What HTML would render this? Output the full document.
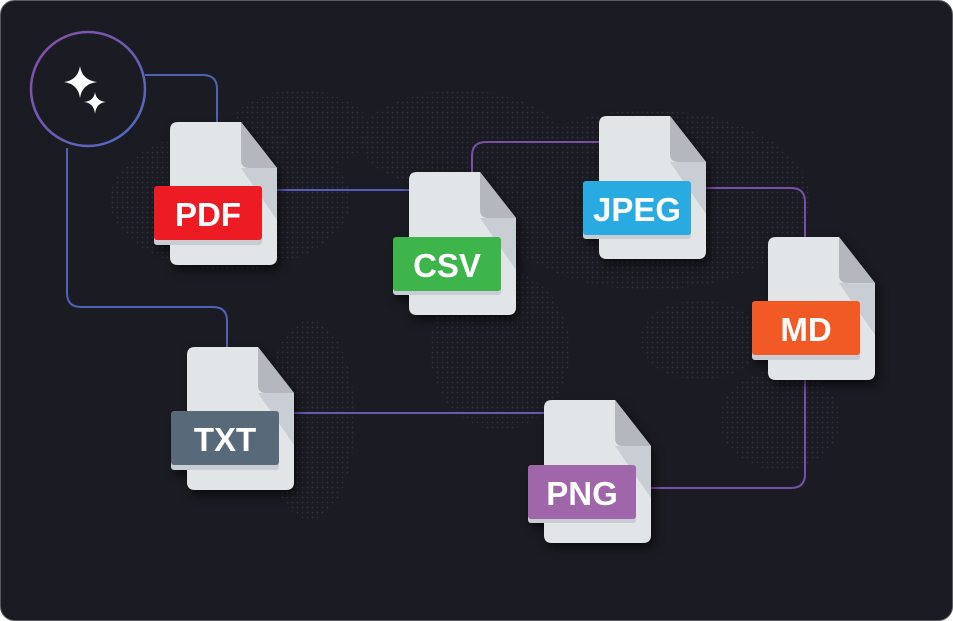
<!DOCTYPE html>
<html><head><meta charset="utf-8"><style>
html,body{margin:0;padding:0;background:#fff;}
body{width:953px;height:621px;overflow:hidden;}
svg{display:block}
text{font-family:"Liberation Sans",sans-serif;font-weight:bold;fill:#fff;}
</style></head><body>
<svg width="953" height="621" viewBox="0 0 953 621" xmlns="http://www.w3.org/2000/svg">
<defs>
<pattern id="dots" width="5" height="5" patternUnits="userSpaceOnUse"><circle cx="2.5" cy="2.5" r="0.9" fill="#5a5c66"/></pattern>
<linearGradient id="cg" x1="0" y1="0" x2="1" y2="1"><stop offset="0" stop-color="#8a4ea8"/><stop offset="1" stop-color="#4f6bc0"/></linearGradient>
<filter id="sh" x="-30%" y="-30%" width="160%" height="160%"><feDropShadow dx="3" dy="5" stdDeviation="5" flood-color="#000" flood-opacity="0.6"/></filter>
<g id="doc">
<path d="M8,0 H71 L107,46 V135 Q107,143 99,143 H8 Q0,143 0,135 V8 Q0,0 8,0Z" fill="#e2e5e8"/>
<polygon points="71,46 107,46 107,98" fill="#c9ced5"/>
<path d="M71,0 V38 Q71,46 79,46 H107 Z" fill="#b4b8be"/>
<rect x="-16" y="69" width="108" height="54" rx="3" fill="#c8ccd3"/>
</g>
</defs>
<rect x="0.5" y="0.5" width="952" height="620" rx="14" fill="#1b1c23" stroke="#5a5b60"/>
<g opacity="0.35">
<ellipse cx="230" cy="200" rx="120" ry="70" fill="url(#dots)"/>
<ellipse cx="300" cy="130" rx="70" ry="40" fill="url(#dots)"/>
<ellipse cx="310" cy="420" rx="45" ry="100" fill="url(#dots)"/>
<ellipse cx="460" cy="140" rx="100" ry="50" fill="url(#dots)"/>
<ellipse cx="500" cy="350" rx="70" ry="80" fill="url(#dots)"/>
<ellipse cx="650" cy="200" rx="160" ry="90" fill="url(#dots)"/>
<ellipse cx="780" cy="420" rx="60" ry="50" fill="url(#dots)"/>
<ellipse cx="700" cy="340" rx="60" ry="40" fill="url(#dots)"/>
</g>
<g fill="none" stroke-width="2">
<path d="M145,75 H203 Q217,75 217,89 V122" stroke="#4f62b4"/>
<path d="M67,148 V293 Q67,307 81,307 H213 Q227,307 227,321 V347" stroke="#4f62b4"/>
<path d="M277,190 H409" stroke="#5a5ab8"/>
<path d="M472,172 V156 Q472,142 486,142 H599" stroke="#7a4fa8"/>
<path d="M706,188 H791 Q805,188 805,202 V237" stroke="#7a4fa8"/>
<path d="M805,380 V474 Q805,488 791,488 H651" stroke="#7a4fa8"/>
<path d="M294,413 H544" stroke="#6a5ab0"/>
</g>
<circle cx="88" cy="89" r="57" fill="#1b1c23" stroke="url(#cg)" stroke-width="2.5"/>
<path d="M80,66 Q82,80 97,82 Q82,84 80,98 Q78,84 64,82 Q78,80 80,66Z" fill="#fff"/>
<path d="M95,92 Q96,101 106,102 Q96,103 95,114 Q94,103 84,102 Q94,101 95,92Z" fill="#fff"/>
<g filter="url(#sh)">
<use href="#doc" x="170" y="122"/>
<use href="#doc" x="409" y="172"/>
<use href="#doc" x="599" y="116"/>
<use href="#doc" x="768" y="237"/>
<use href="#doc" x="187" y="347"/>
<use href="#doc" x="544" y="400"/>
</g>
<rect x="154" y="186" width="108" height="54" rx="3" fill="#ed1c24"/>
<text x="208" y="226" font-size="33" text-anchor="middle">PDF</text>
<rect x="393" y="237" width="108" height="54" rx="3" fill="#3db54a"/>
<text x="447" y="277" font-size="33" text-anchor="middle">CSV</text>
<rect x="583" y="181" width="108" height="54" rx="3" fill="#29abe2"/>
<text x="637" y="221" font-size="33" text-anchor="middle">JPEG</text>
<rect x="752" y="301" width="108" height="54" rx="3" fill="#f15a24"/>
<text x="806" y="341" font-size="33" text-anchor="middle">MD</text>
<rect x="171" y="411" width="108" height="54" rx="3" fill="#586a7a"/>
<text x="225" y="451" font-size="33" text-anchor="middle">TXT</text>
<rect x="528" y="465" width="108" height="54" rx="3" fill="#a066aa"/>
<text x="582" y="505" font-size="33" text-anchor="middle">PNG</text>
</svg>
</body></html>
